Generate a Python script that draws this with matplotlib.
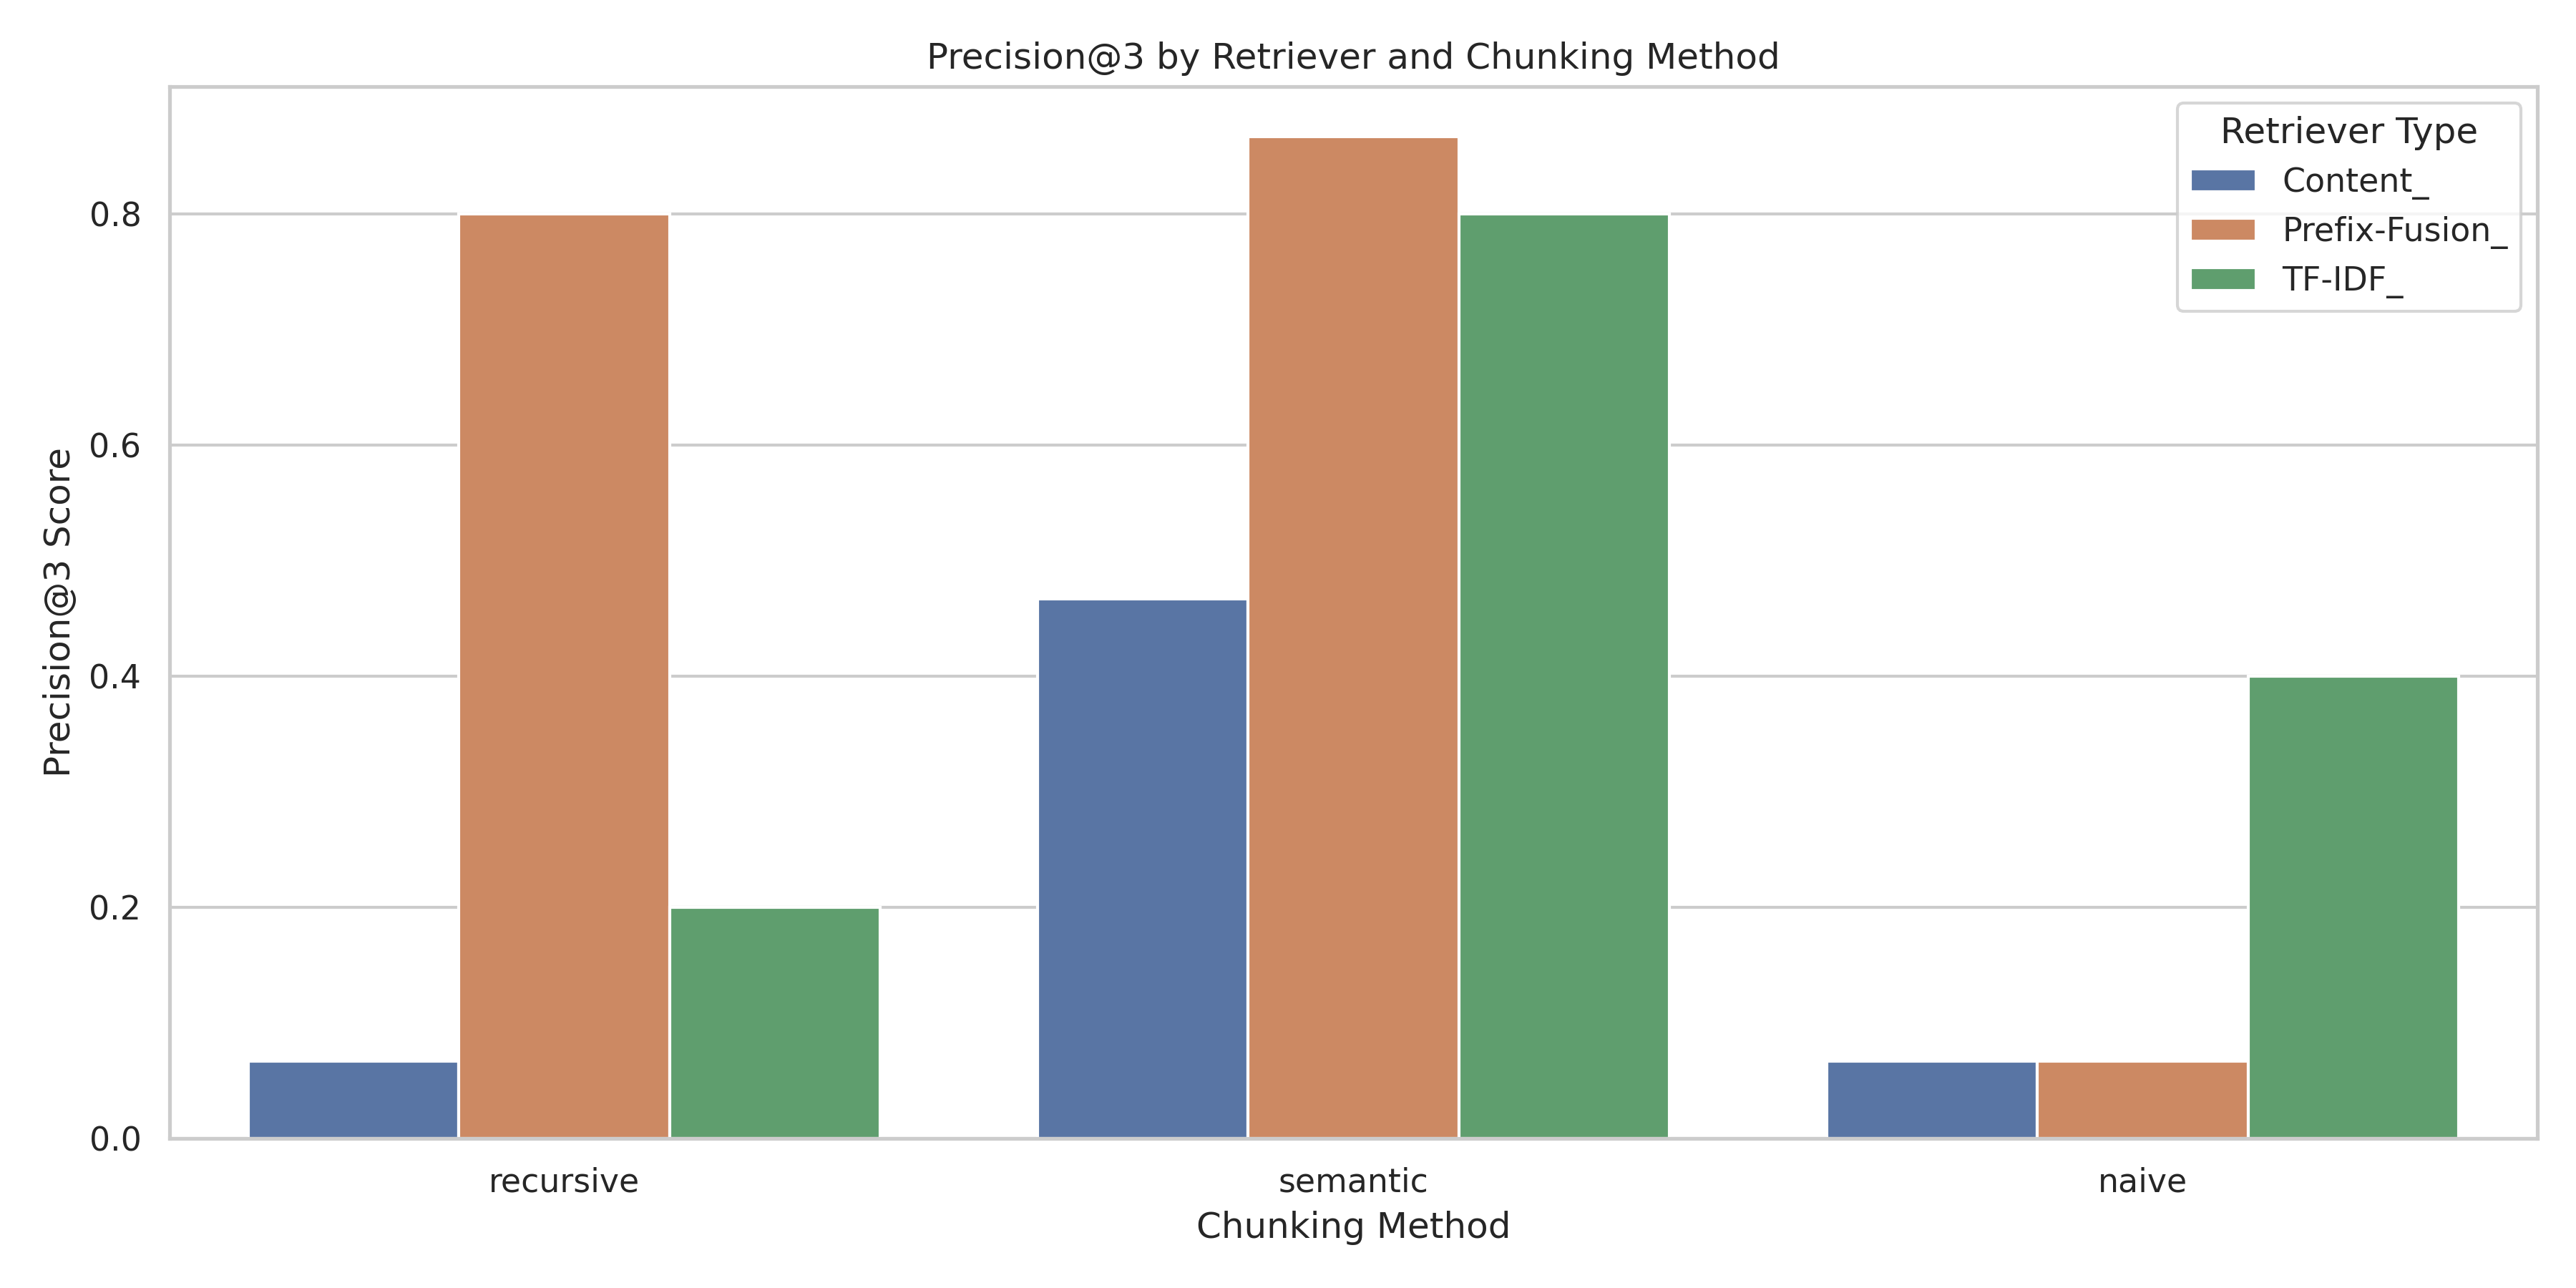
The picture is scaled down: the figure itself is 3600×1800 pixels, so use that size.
import matplotlib
matplotlib.use("Agg")
import matplotlib.pyplot as plt
import seaborn as sns
import pandas as pd

methods = ["recursive", "semantic", "naive"]
retrievers = ["Content_", "Prefix-Fusion_", "TF-IDF_"]
content_vals = [0.0667, 0.4667, 0.0667]
prefix_vals = [0.8, 0.8667, 0.0667]
tfidf_vals = [0.2, 0.8, 0.4]

rows = []
for name, vals in zip(retrievers, [content_vals, prefix_vals, tfidf_vals]):
    for m, v in zip(methods, vals):
        rows.append({"Chunking Method": m, "Retriever Type": name, "Precision@3": v})
df = pd.DataFrame(rows)

sns.set_theme(style="whitegrid")
fig, ax = plt.subplots(figsize=(12, 6))
sns.barplot(data=df, x="Chunking Method", y="Precision@3", hue="Retriever Type",
            order=methods, hue_order=retrievers, ax=ax)
ax.set_title("Precision@3 by Retriever and Chunking Method")
ax.set_xlabel("Chunking Method")
ax.set_ylabel("Precision@3 Score")
ax.legend(title="Retriever Type", loc="upper right")
plt.tight_layout()
plt.savefig("out.png", dpi=300)
